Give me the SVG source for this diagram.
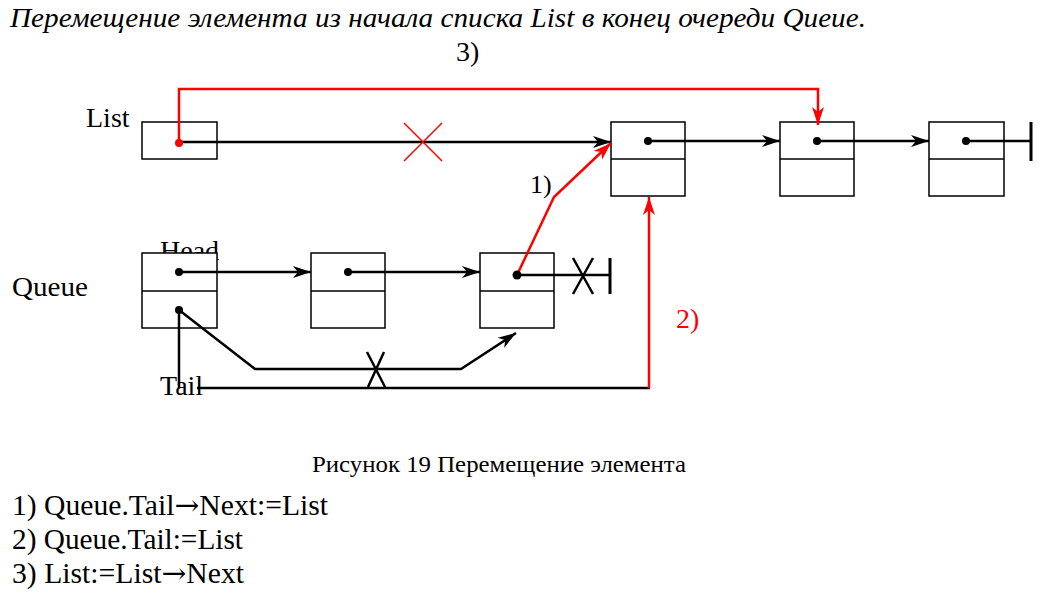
<svg xmlns="http://www.w3.org/2000/svg" width="1054" height="594" viewBox="0 0 1054 594">
<defs>
<style>
.t{font-family:"Liberation Serif","Times New Roman",serif;fill:#000}
.lb{font-size:28px}
.box{fill:#fff;stroke:#000;stroke-width:1.5}
.bl{fill:none;stroke:#000;stroke-width:2.5}
.rd{fill:none;stroke:#f00;stroke-width:2.5}
.dot{fill:#000}
.arr{font-family:"DejaVu Serif",serif}
</style>
<marker id="ab" markerWidth="20" markerHeight="14" refX="18" refY="7" orient="auto" markerUnits="userSpaceOnUse"><path d="M0,1 L18,7 L0,13 L5,7 z" fill="#000"/></marker>
<marker id="ar" markerWidth="20" markerHeight="14" refX="18" refY="7" orient="auto" markerUnits="userSpaceOnUse"><path d="M0,1 L18,7 L0,13 L5,7 z" fill="#f00"/></marker>
</defs>
<rect width="1054" height="594" fill="#fff"/>
<text class="t" x="10" y="27" font-size="27" font-style="italic" textLength="856" lengthAdjust="spacingAndGlyphs">Перемещение элемента из начала списка List в конец очереди Queue.</text>
<text class="t lb" x="456" y="61">3)</text>
<text class="t lb" x="86" y="127">List</text>
<text class="t lb" x="12" y="296" textLength="76" lengthAdjust="spacingAndGlyphs">Queue</text>
<text class="t lb" x="160" y="260">Head</text>
<text class="t" x="530" y="193" font-size="26">1)</text>
<text class="t" x="676" y="328" font-size="28" style="fill:#f00">2)</text>
<text class="t lb" x="160" y="395">Tail</text>
<text class="t" x="312" y="472" font-size="24" textLength="374" lengthAdjust="spacingAndGlyphs">Рисунок 19 Перемещение элемента</text>
<text class="t" x="12" y="515" font-size="29" textLength="316" lengthAdjust="spacingAndGlyphs">1) Queue.Tail<tspan class="arr">→</tspan>Next:=List</text>
<text class="t" x="12" y="549" font-size="29" textLength="231" lengthAdjust="spacingAndGlyphs">2) Queue.Tail:=List</text>
<text class="t" x="12" y="583" font-size="29" textLength="232" lengthAdjust="spacingAndGlyphs">3) List:=List<tspan class="arr">→</tspan>Next</text>

<g id="list-head"><rect class="box" x="142" y="122" width="75" height="37"/></g>
<g id="l1"><rect class="box" x="611" y="122" width="74" height="74"/><line x1="611" y1="159" x2="685" y2="159" stroke="#000" stroke-width="1.5"/></g>
<g id="l2"><rect class="box" x="780" y="122" width="74" height="74"/><line x1="780" y1="159" x2="854" y2="159" stroke="#000" stroke-width="1.5"/></g>
<g id="l3"><rect class="box" x="929" y="122" width="75" height="74"/><line x1="929" y1="159" x2="1004" y2="159" stroke="#000" stroke-width="1.5"/></g>
<g id="q-head"><rect class="box" x="142" y="253" width="75" height="75"/><line x1="142" y1="291" x2="217" y2="291" stroke="#000" stroke-width="1.5"/></g>
<g id="q1"><rect class="box" x="311" y="253" width="74" height="75"/><line x1="311" y1="291" x2="385" y2="291" stroke="#000" stroke-width="1.5"/></g>
<g id="q2"><rect class="box" x="480" y="253" width="74" height="75"/><line x1="480" y1="291" x2="554" y2="291" stroke="#000" stroke-width="1.5"/></g>

<g id="connectors">
<line class="bl" x1="179" y1="142" x2="611" y2="142" marker-end="url(#ab)"/>
<line class="bl" x1="648" y1="141" x2="780" y2="141" marker-end="url(#ab)"/>
<line class="bl" x1="817" y1="141" x2="929" y2="141" marker-end="url(#ab)"/>
<line class="bl" x1="966" y1="141" x2="1031" y2="141"/>
<line x1="1031" y1="122" x2="1031" y2="161" stroke="#000" stroke-width="3"/>
<line class="bl" x1="179" y1="272" x2="311" y2="272" marker-end="url(#ab)"/>
<line class="bl" x1="348" y1="272" x2="480" y2="272" marker-end="url(#ab)"/>
<line class="bl" x1="517" y1="275" x2="610" y2="275"/>
<line x1="610" y1="258" x2="610" y2="294" stroke="#000" stroke-width="3"/>
<path class="bl" d="M573,258 L593,294 M593,258 L573,294"/>
<polyline class="bl" points="179,310 255,369 461,369 516,333" marker-end="url(#ab)"/>
<path class="bl" d="M367,352 L385,387 M384,352 L368,387"/>
<line class="bl" x1="179" y1="310" x2="179" y2="388"/>
<line class="bl" x1="197" y1="388" x2="650" y2="388"/>
<polyline class="rd" points="649,388 649,197" marker-end="url(#ar)"/>
<polyline class="rd" points="517,275 554,197 611,143" marker-end="url(#ar)"/>
<polyline class="rd" points="179,142 179,89 818,89 818,125" marker-end="url(#ar)"/>
<path d="M404,123 L442,161 M442,123 L404,161" stroke="#f00" stroke-width="1.5" fill="none"/>
</g>
<g id="dots">
<circle class="dot" cx="648" cy="141" r="4"/>
<circle class="dot" cx="817" cy="141" r="4"/>
<circle class="dot" cx="966" cy="141" r="4"/>
<circle class="dot" cx="179" cy="272" r="4"/>
<circle class="dot" cx="348" cy="272" r="4"/>
<circle class="dot" cx="517" cy="275" r="4.5"/>
<circle class="dot" cx="179" cy="310" r="4"/>
<circle cx="179" cy="143" r="4" fill="#f00"/>
</g>
</svg>
